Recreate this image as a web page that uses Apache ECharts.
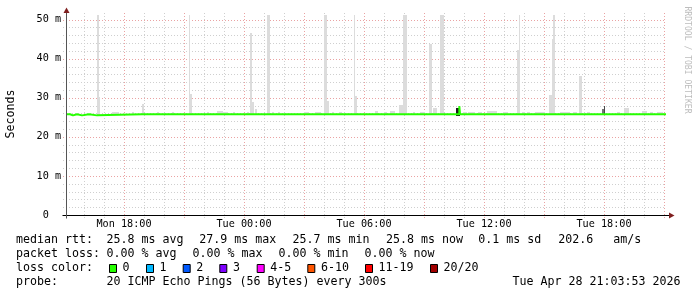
<!DOCTYPE html>
<html><head><meta charset="utf-8">
<script src="https://cdn.jsdelivr.net/npm/echarts@6/dist/echarts.min.js"></script>
<style>html,body{margin:0;padding:0;background:#fff}#c{width:697px;height:297px}</style>
</head><body><div id="c"></div>
<script>
// time in minutes since Mon 00:00
const xStart = 906, xEnd = 2706;
const xTickValues = [1080, 1440, 1800, 2160, 2520];
const xTickLabels = ['Mon 18:00', 'Tue 00:00', 'Tue 06:00', 'Tue 12:00', 'Tue 18:00'];
const yTickValues = [0, 10, 20, 30, 40, 50];
const yTickLabels = ['0  ', '10 m', '20 m', '30 m', '40 m', '50 m'];
const yMax = 51.7;

// median rtt (ms) [minute, value], held until next point
const median = [[906,25.8],[918,25.5],[927,25.8],[939,25.5],[954,25.8],[975,25.5],[999,25.8],
  [1135,25.5],[1140,25.8],[1232,25.5],[1237,25.8],[1505,25.5],[1510,25.8],[1780,25.5],[1785,25.8],
  [1810,25.5],[1815,25.8],[2086,27.9],[2088,25.8],[2706,25.8]];

// smoke [from, to, low ms, high ms]
const smokeLight = [
  [998,1006,25.6,51.3],[998,1008,25.6,30.3],[1133,1141,25.6,28.5],
  [1275,1278,25.6,51.3],[1275,1284,25.6,31.0],
  [1458,1465,25.6,46.7],[1458,1471,25.6,28.9],[1473,1479,25.6,27.2],
  [1508,1518,25.6,51.3],[1681,1688,25.6,51.3],[1681,1695,25.6,29.2],
  [1770,1773,25.6,51.3],[1770,1779,25.6,30.5],
  [1918,1928,25.6,51.3],[1905,1928,25.6,28.2],
  [1995,2005,25.6,43.8],[2008,2018,25.6,27.4],[2028,2041,25.6,51.3],
  [2260,2268,25.6,42.3],[2265,2268,25.6,51.3],
  [2356,2373,25.6,30.8],[2364,2373,25.6,45.1],[2368,2373,25.6,51.3],
  [2445,2453,25.6,35.5],[2580,2595,25.6,27.4],[2633,2648,25.6,26.5],
  [1044,1065,25.6,26.3],[1104,1110,25.6,26.4],[1179,1185,25.6,26.3],[1224,1230,25.6,26.3],
  [1329,1335,25.6,26.3],[1359,1377,25.6,26.5],[1377,1392,25.6,26.3],[1408,1413,25.6,26.3],
  [1448,1455,25.6,26.3],[1523,1530,25.6,26.3],[1542,1548,25.6,26.3],[1620,1635,25.6,26.3],
  [1653,1670,25.6,26.4],[1703,1710,25.6,26.3],[1725,1734,25.6,26.3],[1833,1843,25.6,26.6],
  [1860,1868,25.6,26.3],[1878,1893,25.6,26.6],[1947,1953,25.6,26.3],[1968,1983,25.6,26.3],
  [2098,2108,25.6,26.3],[2112,2133,25.6,26.3],[2142,2153,25.6,26.3],[2168,2198,25.6,26.5],
  [2217,2232,25.6,26.3],[2273,2283,25.6,26.3],[2288,2298,25.6,26.3],[2313,2343,25.6,26.3],
  [2388,2418,25.6,26.3],[2427,2438,25.6,26.3],[2468,2478,25.6,26.3],[2558,2568,25.6,26.3],
  [2658,2667,25.6,26.3],[2678,2698,25.6,26.3]
];
const smokeGrey = [[2513,2523,25.6,27.2]];
const smokeDarkGrey = [[2520,2523,25.6,28.0]];
const smokeBlack = [[2076,2088,25.3,27.3]];

// legend
const statLine1 = [['median rtt:',16],['25.8 ms avg',106.6],['27.9 ms max',199.3],['25.7 ms min',292.6],['25.8 ms now',385.9],['0.1 ms sd',478.3],['202.6',558.3],['am/s',613.3]];
const statLine2 = [['packet loss:',16],['0.00 % avg',106.6],['0.00 % max',192.6],['0.00 % min',278.6],['0.00 % now',364.6]];
const lossLabels = ['0','1','2','3','4-5','6-10','11-19','20/20'];
const lossColors = ['#26ff00','#00b8ff','#0059ff','#7e00ff','#ff00ff','#ff5500','#ff0000','#a10000'];
const lossBoxX = [109,146,182.7,219.3,256.7,307.3,365,430];
const probeLine = [['probe:',16],['20 ICMP Echo Pings (56 Bytes) every 300s',106.6],['Tue Apr 28 21:03:53 2026',512.6]];

// grid lines
const vGrid = [];
for (let t = 960; t <= 2700; t += 60) vGrid.push([t, 0, t % 180 === 0 ? 1 : 0]);
const hGrid = [];
for (let v = 2; v <= 50; v += 2) hGrid.push([xStart, v, v % 10 === 0 ? 1 : 0]);

const MONO = 'DejaVu Sans Mono';
const LEG = 11.63, AX = 10.18;
const MAJ = '#eaa3a3', MIN = '#cfcfcf';

const chart = echarts.init(document.getElementById('c'), null, {renderer: 'canvas'});

function smokeSeries(data, color, z) {
  return {
    type: 'custom', data: data, z: z, silent: true,
    encode: {x: [0, 1], y: [2, 3]},
    renderItem: function (params, api) {
      const p0 = api.coord([api.value(0), api.value(3)]);
      const p1 = api.coord([api.value(1), api.value(2)]);
      const x0 = Math.round(p0[0]), x1 = Math.max(Math.round(p1[0]), x0 + 1);
      const y0 = Math.round(p0[1]), y1 = Math.round(p1[1]);
      return {type: 'rect', shape: {x: x0, y: y0, width: x1 - x0, height: y1 - y0},
        style: {fill: color}};
    }
  };
}

let legendEls = [];
const lineY = [240.4, 254.4, 268.4, 282.4];
function txt(s, x, y, size, fill) {
  return {type: 'text', x: x, y: y, silent: true,
    style: {text: s, fontFamily: MONO, fontSize: size, fill: fill || '#000', align: 'left', verticalAlign: 'middle'}};
}
statLine1.forEach(s => legendEls.push(txt(s[0], s[1], lineY[0], LEG)));
statLine2.forEach(s => legendEls.push(txt(s[0], s[1], lineY[1], LEG)));
legendEls.push(txt('loss color:', 16, lineY[2], LEG));
lossLabels.forEach((l, i) => {
  legendEls.push({type: 'rect', silent: true, shape: {x: lossBoxX[i] + 0.5, y: 264.5, width: 7, height: 8},
    style: {fill: lossColors[i], stroke: '#000', lineWidth: 1}});
  legendEls.push(txt(l, lossBoxX[i] + 13.6, lineY[2], LEG));
});
probeLine.forEach(s => legendEls.push(txt(s[0], s[1], lineY[3], LEG)));

legendEls.push({type: 'text', x: 11, y: 114, rotation: Math.PI / 2, silent: true,
  style: {text: 'Seconds', fontFamily: MONO, fontSize: LEG, fill: '#000', align: 'center', verticalAlign: 'middle'}});
legendEls.push({type: 'text', x: 687.5, y: 60, rotation: -Math.PI / 2, silent: true,
  style: {text: 'RRDTOOL / TOBI OETIKER', fontFamily: MONO, fontSize: 8.1, fill: '#bdbdbd', align: 'center', verticalAlign: 'middle'}});
// axis lines and arrows
legendEls.push({type: 'line', silent: true, z: 10, shape: {x1: 62.5, y1: 215.5, x2: 669, y2: 215.5}, style: {stroke: '#000', lineWidth: 1}});
legendEls.push({type: 'line', silent: true, z: 10, shape: {x1: 66.5, y1: 12.5, x2: 66.5, y2: 218.5}, style: {stroke: '#555', lineWidth: 1}});
legendEls.push({type: 'polygon', silent: true, z: 11, shape: {points: [[66.5, 7.5], [63.5, 13], [69.5, 13]]}, style: {fill: '#7f1f1f'}});
legendEls.push({type: 'polygon', silent: true, z: 11, shape: {points: [[674.5, 215.5], [669, 212.5], [669, 218.5]]}, style: {fill: '#7f1f1f'}});

const option = {
  animation: false,
  backgroundColor: '#ffffff',
  grid: {left: 66, top: 13, width: 600, height: 202, containLabel: false},
  xAxis: {
    type: 'value', min: xStart, max: xEnd,
    axisLine: {show: false}, axisTick: {show: false}, splitLine: {show: false},
    axisLabel: {
      customValues: xTickValues, margin: 4, fontFamily: MONO, fontSize: AX, color: '#000',
      formatter: v => xTickLabels[xTickValues.indexOf(v)] || ''
    }
  },
  yAxis: {
    type: 'value', min: 0, max: yMax,
    axisLine: {show: false}, axisTick: {show: false}, splitLine: {show: false},
    axisLabel: {
      customValues: yTickValues, margin: 5, fontFamily: MONO, fontSize: AX, color: '#000',
      formatter: v => yTickLabels[yTickValues.indexOf(v)] || ''
    }
  },
  series: [
    {
      type: 'custom', data: vGrid, z: 1, silent: true, clip: false,
      renderItem: function (params, api) {
        const cs = params.coordSys;
        const x = Math.round(api.coord([api.value(0), 0])[0]) + 0.5;
        return {type: 'line', shape: {x1: x, y1: cs.y, x2: x, y2: cs.y + cs.height + 3},
          style: {stroke: api.value(2) ? MAJ : MIN, lineWidth: 1, lineDash: [1, 2]}};
      }
    },
    {
      type: 'custom', data: hGrid, z: 1, silent: true, clip: false,
      renderItem: function (params, api) {
        const cs = params.coordSys;
        const y = Math.round(api.coord([api.value(0), api.value(1)])[1]) + 0.5;
        return {type: 'line', shape: {x1: cs.x - 3, y1: y, x2: cs.x + cs.width, y2: y},
          style: {stroke: api.value(2) ? MAJ : MIN, lineWidth: 1, lineDash: [1, 2]}};
      }
    },
    smokeSeries(smokeLight, '#dcdcdc', 2),
    smokeSeries(smokeGrey, '#767676', 3),
    smokeSeries(smokeDarkGrey, '#4a4a4a', 3),
    smokeSeries(smokeBlack, '#1c1c1c', 3),
    {
      type: 'line', data: median, step: 'end', symbol: 'none', z: 5, silent: true,
      lineStyle: {color: '#26ff00', width: 2}
    }
  ],
  graphic: legendEls
};
chart.setOption(option);
</script></body></html>
